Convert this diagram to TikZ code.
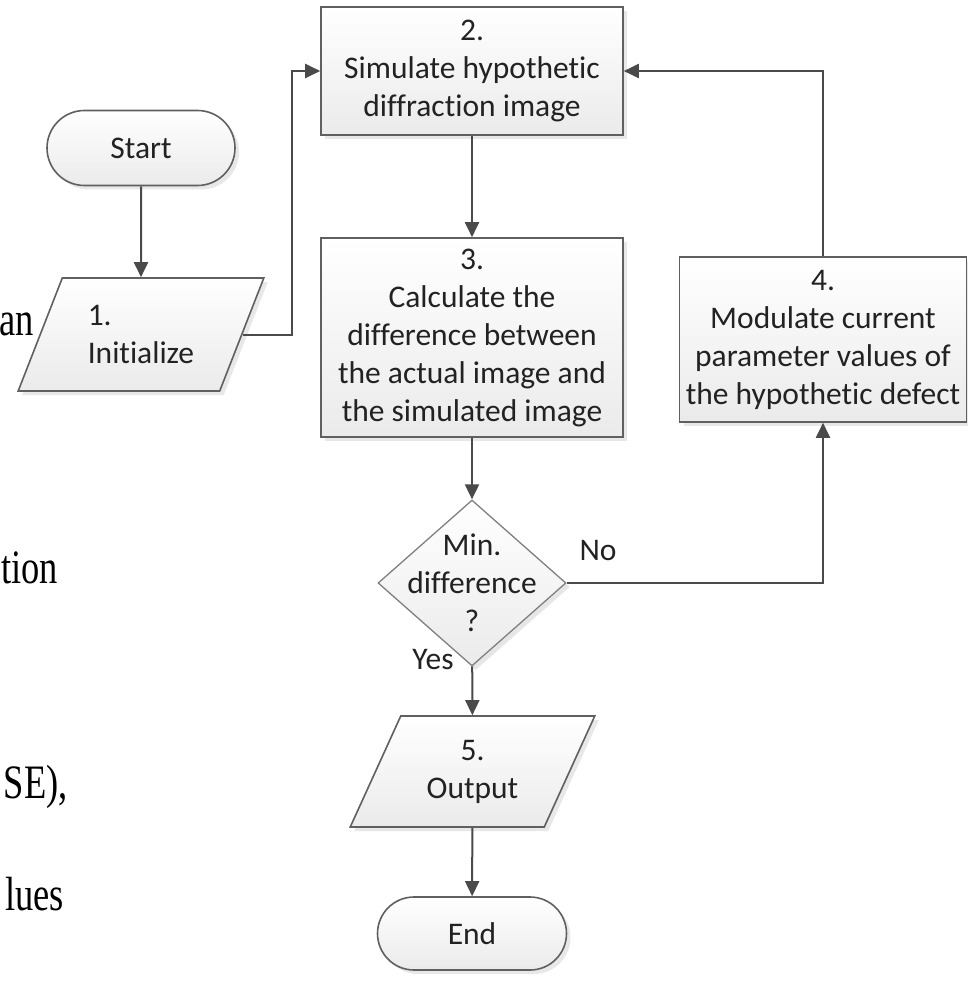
\documentclass[tikz,border=0pt]{standalone}
\usepackage{graphicx}
\usepackage{fontspec}
\setmainfont{Carlito}[Ligatures=NoCommon]
\newfontfamily\serifstray{Liberation Serif}
\usetikzlibrary{shapes.geometric,shapes.misc,arrows.meta,shadows,calc}
\definecolor{edgec}{HTML}{4A4A4A}
\definecolor{borderc}{HTML}{606060}
\definecolor{textc}{HTML}{222222}
\begin{document}
\begin{tikzpicture}[x=1pt,y=-1pt,
  every node/.style={font=\fontsize{31.5}{38}\selectfont, text=textc},
  boxbase/.style={draw=borderc, line width=1.6pt, top color=white, bottom color=black!8,
    drop shadow={shadow xshift=4pt, shadow yshift=-4pt, fill=black!18},
    inner sep=0pt, align=center},
  procbox/.style={boxbase, rectangle},
  termbox/.style={boxbase, rounded rectangle},
  iobox/.style={boxbase, trapezium, trapezium stretches=true,
    trapezium left angle=63, trapezium right angle=117},
  decbox/.style={boxbase, diamond, draw=black!50, line width=1.3pt,
    drop shadow={shadow xshift=3pt, shadow yshift=-3pt, fill=black!10}},
  lbl/.style={inner sep=0pt, align=center},
  arr/.style={draw=edgec, line width=2pt, -{Triangle[length=15pt,width=14pt]}},
  stray/.style={anchor=base east, inner sep=0pt, text=black,
    font=\serifstray\fontsize{48}{56}\selectfont}]
\useasboundingbox (0,0) rectangle (967,984);

% nodes
\node[termbox, minimum width=188pt, minimum height=75pt] (start) at (141,148) {Start};
\node[iobox, minimum width=246pt, minimum height=113pt, align=left] (init) at (141,334.5) {1.\\Initialize};
\node[procbox, minimum width=302pt, minimum height=128pt] (b2) at (472,71) {2.\\Simulate hypothetic\\diffraction image};
\node[procbox, minimum width=302pt, minimum height=199pt] (b3) at (472,337.5) {3.\\Calculate the\\difference between\\the actual image and\\the simulated image};
\node[procbox, minimum width=287pt, minimum height=165pt] (b4) at (823,339.5) {4.\\Modulate current\\parameter values of\\the hypothetic defect};
\node[decbox, minimum width=188pt, minimum height=166pt] (dec) at (472,583) {};
\node[lbl] (dect) at (472,583) {Min.\\difference\\?};
\node[iobox, minimum width=245pt, minimum height=111pt] (out) at (472.5,771.5) {5.\\Output};
\node[termbox, minimum width=189pt, minimum height=73pt] (end) at (472,933.5) {End};

\node[lbl] (no) at (598,550) {No};
\node[lbl] (yes) at (433,660) {Yes};

% stray text of the surrounding document
\node[stray] (s1) at (34,335) {\scalebox{0.76}[1]{an}};
\node[stray] (s2) at (58,583) {\scalebox{0.76}[1]{tion}};
\node[stray] (s3) at (68,798) {\scalebox{0.76}[1]{SE),}};
\node[stray] (s4) at (64,910) {\scalebox{0.76}[1]{lues}};

% connectors
\coordinate (jx) at (292,0);
\draw[arr] (start) -- (start |- init.north);
\draw[arr] (init.east) -- (init.east -| jx) |- (b2.west);
\draw[arr] (b2) -- (b3);
\draw[arr] (b3) -- (dec);
\draw[arr] (dec) -- (out);
\draw[arr] (out) -- (end);
\draw[arr] (dec.east) -| (b4.south);
\draw[arr] (b4.north) |- (b2.east);
\end{tikzpicture}
\end{document}
